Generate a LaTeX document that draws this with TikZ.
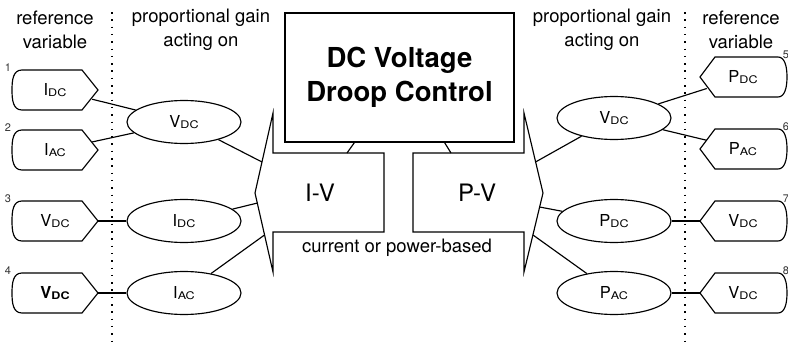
\documentclass[tikz,border=0pt]{standalone}
\usepackage{fontspec}
\usepackage{graphicx}
\setmainfont{TeX Gyre Heros}
\usetikzlibrary{shapes.geometric}
\newcommand\lowtxt[1]{\raisebox{-0.4pt}{\fontsize{10.5}{10.5}\selectfont\scalebox{1.2}[1]{#1}}}
\newcommand\vlab[2]{{\fontsize{16.5}{16.5}\selectfont #1\lowtxt{#2}}}
\newcommand\vlabb[2]{{\fontsize{16.5}{16.5}\selectfont\bfseries #1\lowtxt{\bfseries #2}}}
\tikzset{
  shp/.style={draw, line width=1.15pt},
  gainell/.style={ellipse, draw, line width=1.15pt, minimum width=114, minimum height=43, inner sep=0pt},
  refboxL/.style={rectangle, minimum width=74, minimum height=40, inner sep=0pt},
  refboxR/.style={rectangle, minimum width=72, minimum height=40, inner sep=0pt},
  numlab/.style={font=\fontsize{11}{11}\selectfont, text=black!80, inner sep=0pt},
  hdr/.style={align=center, font=\fontsize{18.5}{24}\selectfont, inner sep=0pt},
  conn/.style={line width=1.15pt},
  dotline/.style={line width=1.5pt, dash pattern=on 1.5pt off 5.8pt},
}
\newcommand\refleft[4]{%
  \node[refboxL] (#1) at (55,#2) {#4};
  \coordinate (#1tip) at (98,#2);
  \begin{scope}[shift={(55,#2)}]
    \draw[shp] (-33,-20) -- (27,-20) -- (43,0) -- (27,20) -- (-33,20)
      .. controls (-42,20) and (-43,10) .. (-43,0)
      .. controls (-43,-10) and (-42,-20) .. cycle;
  \end{scope}
  \node[numlab] (#1num) at (8,#2-22) {#3};
}
\newcommand\refright[4]{%
  \node[refboxR] (#1) at (743,#2) {#4};
  \coordinate (#1tip) at (700,#2);
  \begin{scope}[shift={(743,#2)}]
    \draw[shp] (-28,-20) -- (35,-20)
      .. controls (42,-20) and (44,-10) .. (44,0)
      .. controls (44,10) and (42,20) .. (35,20) -- (-28,20) -- (-43,0) -- cycle;
  \end{scope}
  \node[numlab] (#1num) at (786,#2-22) {#3};
}
\begin{document}
\begin{tikzpicture}[x=1pt,y=-1pt]
\useasboundingbox (0,0) rectangle (788,343);

% headers
\node[hdr] (h1) at (55,30) {reference\\variable};
\node[hdr] (h2) at (201,30) {proportional gain\\acting on};
\node[hdr] (h3) at (602,30) {proportional gain\\acting on};
\node[hdr] (h4) at (741,30) {reference\\variable};

% dotted separators
\coordinate (d1t) at (112,12);
\coordinate (d1b) at (112,343);
\coordinate (d2t) at (685,12);
\coordinate (d2b) at (685,343);
\draw[dotline] (d1t) -- (d1b);
\draw[dotline] (d2t) -- (d2b);

% central box
\node[draw, line width=1.15pt, minimum width=229, minimum height=129, inner sep=0pt,
      align=center, font=\fontsize{27.5}{34}\selectfont\bfseries] (box) at (399.5,77.5)
      {DC Voltage\\Droop Control};

% block arrows
\draw[shp] (384,153) -- (273,153) -- (273,113) -- (255,193) -- (273,272) -- (273,232) -- (384,232) -- cycle;
\draw[shp] (413,153) -- (524,153) -- (524,113) -- (543,193) -- (524,272) -- (524,232) -- (413,232) -- cycle;
\node[font=\fontsize{24}{24}\selectfont] (iv) at (320,193) {I-V};
\node[font=\fontsize{24}{24}\selectfont] (pv) at (477,193) {P-V};
\node[font=\fontsize{18.5}{20}\selectfont] (cpb) at (397,248) {current or power-based};

\coordinate (ivtop) at (347,153);
\coordinate (pvtop) at (451,153);
\draw[conn] ([xshift=70pt]box.south west) -- (ivtop);
\draw[conn] ([xshift=-70pt]box.south east) -- (pvtop);

\coordinate (ivA) at (262,162);
\coordinate (ivB) at (257.5,203);
\coordinate (ivC) at (264.5,235);
\coordinate (pvA) at (535.5,162);
\coordinate (pvB) at (539.5,207);
\coordinate (pvC) at (533,235);

% left reference shapes
\refleft{r1}{90}{1}{\vlab{I}{DC}}
\refleft{r2}{150}{2}{\vlab{I}{AC}}
\refleft{r3}{221}{3}{\vlab{V}{DC}}
\refleft{r4}{293}{4}{\vlabb{V}{DC}}

% right reference shapes
\refright{r5}{77}{5}{\vlab{P}{DC}}
\refright{r6}{149}{6}{\vlab{P}{AC}}
\refright{r7}{221}{7}{\vlab{V}{DC}}
\refright{r8}{293}{8}{\vlab{V}{DC}}

% gain ellipses
\node[gainell] (gl1) at (184,122) {\vlab{V}{DC}};
\node[gainell] (gl2) at (184,221) {\vlab{I}{DC}};
\node[gainell] (gl3) at (184,293) {\vlab{I}{AC}};
\node[gainell] (gr1) at (614,118) {\vlab{V}{DC}};
\node[gainell] (gr2) at (614,221) {\vlab{P}{DC}};
\node[gainell] (gr3) at (614,293) {\vlab{P}{AC}};

% connectors
\draw[conn] (r1) -- (gl1);
\draw[conn] (r2) -- (gl1);
\draw[conn] (r3tip) -- (gl2);
\draw[conn] (r4tip) -- (gl3);
\draw[conn] (gl1) -- (ivA);
\draw[conn] (gl2) -- (ivB);
\draw[conn] (gl3) -- (ivC);
\draw[conn] (r5) -- (gr1);
\draw[conn] (r6) -- (gr1);
\draw[conn] (r7tip) -- (gr2);
\draw[conn] (r8tip) -- (gr3);
\draw[conn] (gr1) -- (pvA);
\draw[conn] (gr2) -- (pvB);
\draw[conn] (gr3) -- (pvC);
\end{tikzpicture}
\end{document}
